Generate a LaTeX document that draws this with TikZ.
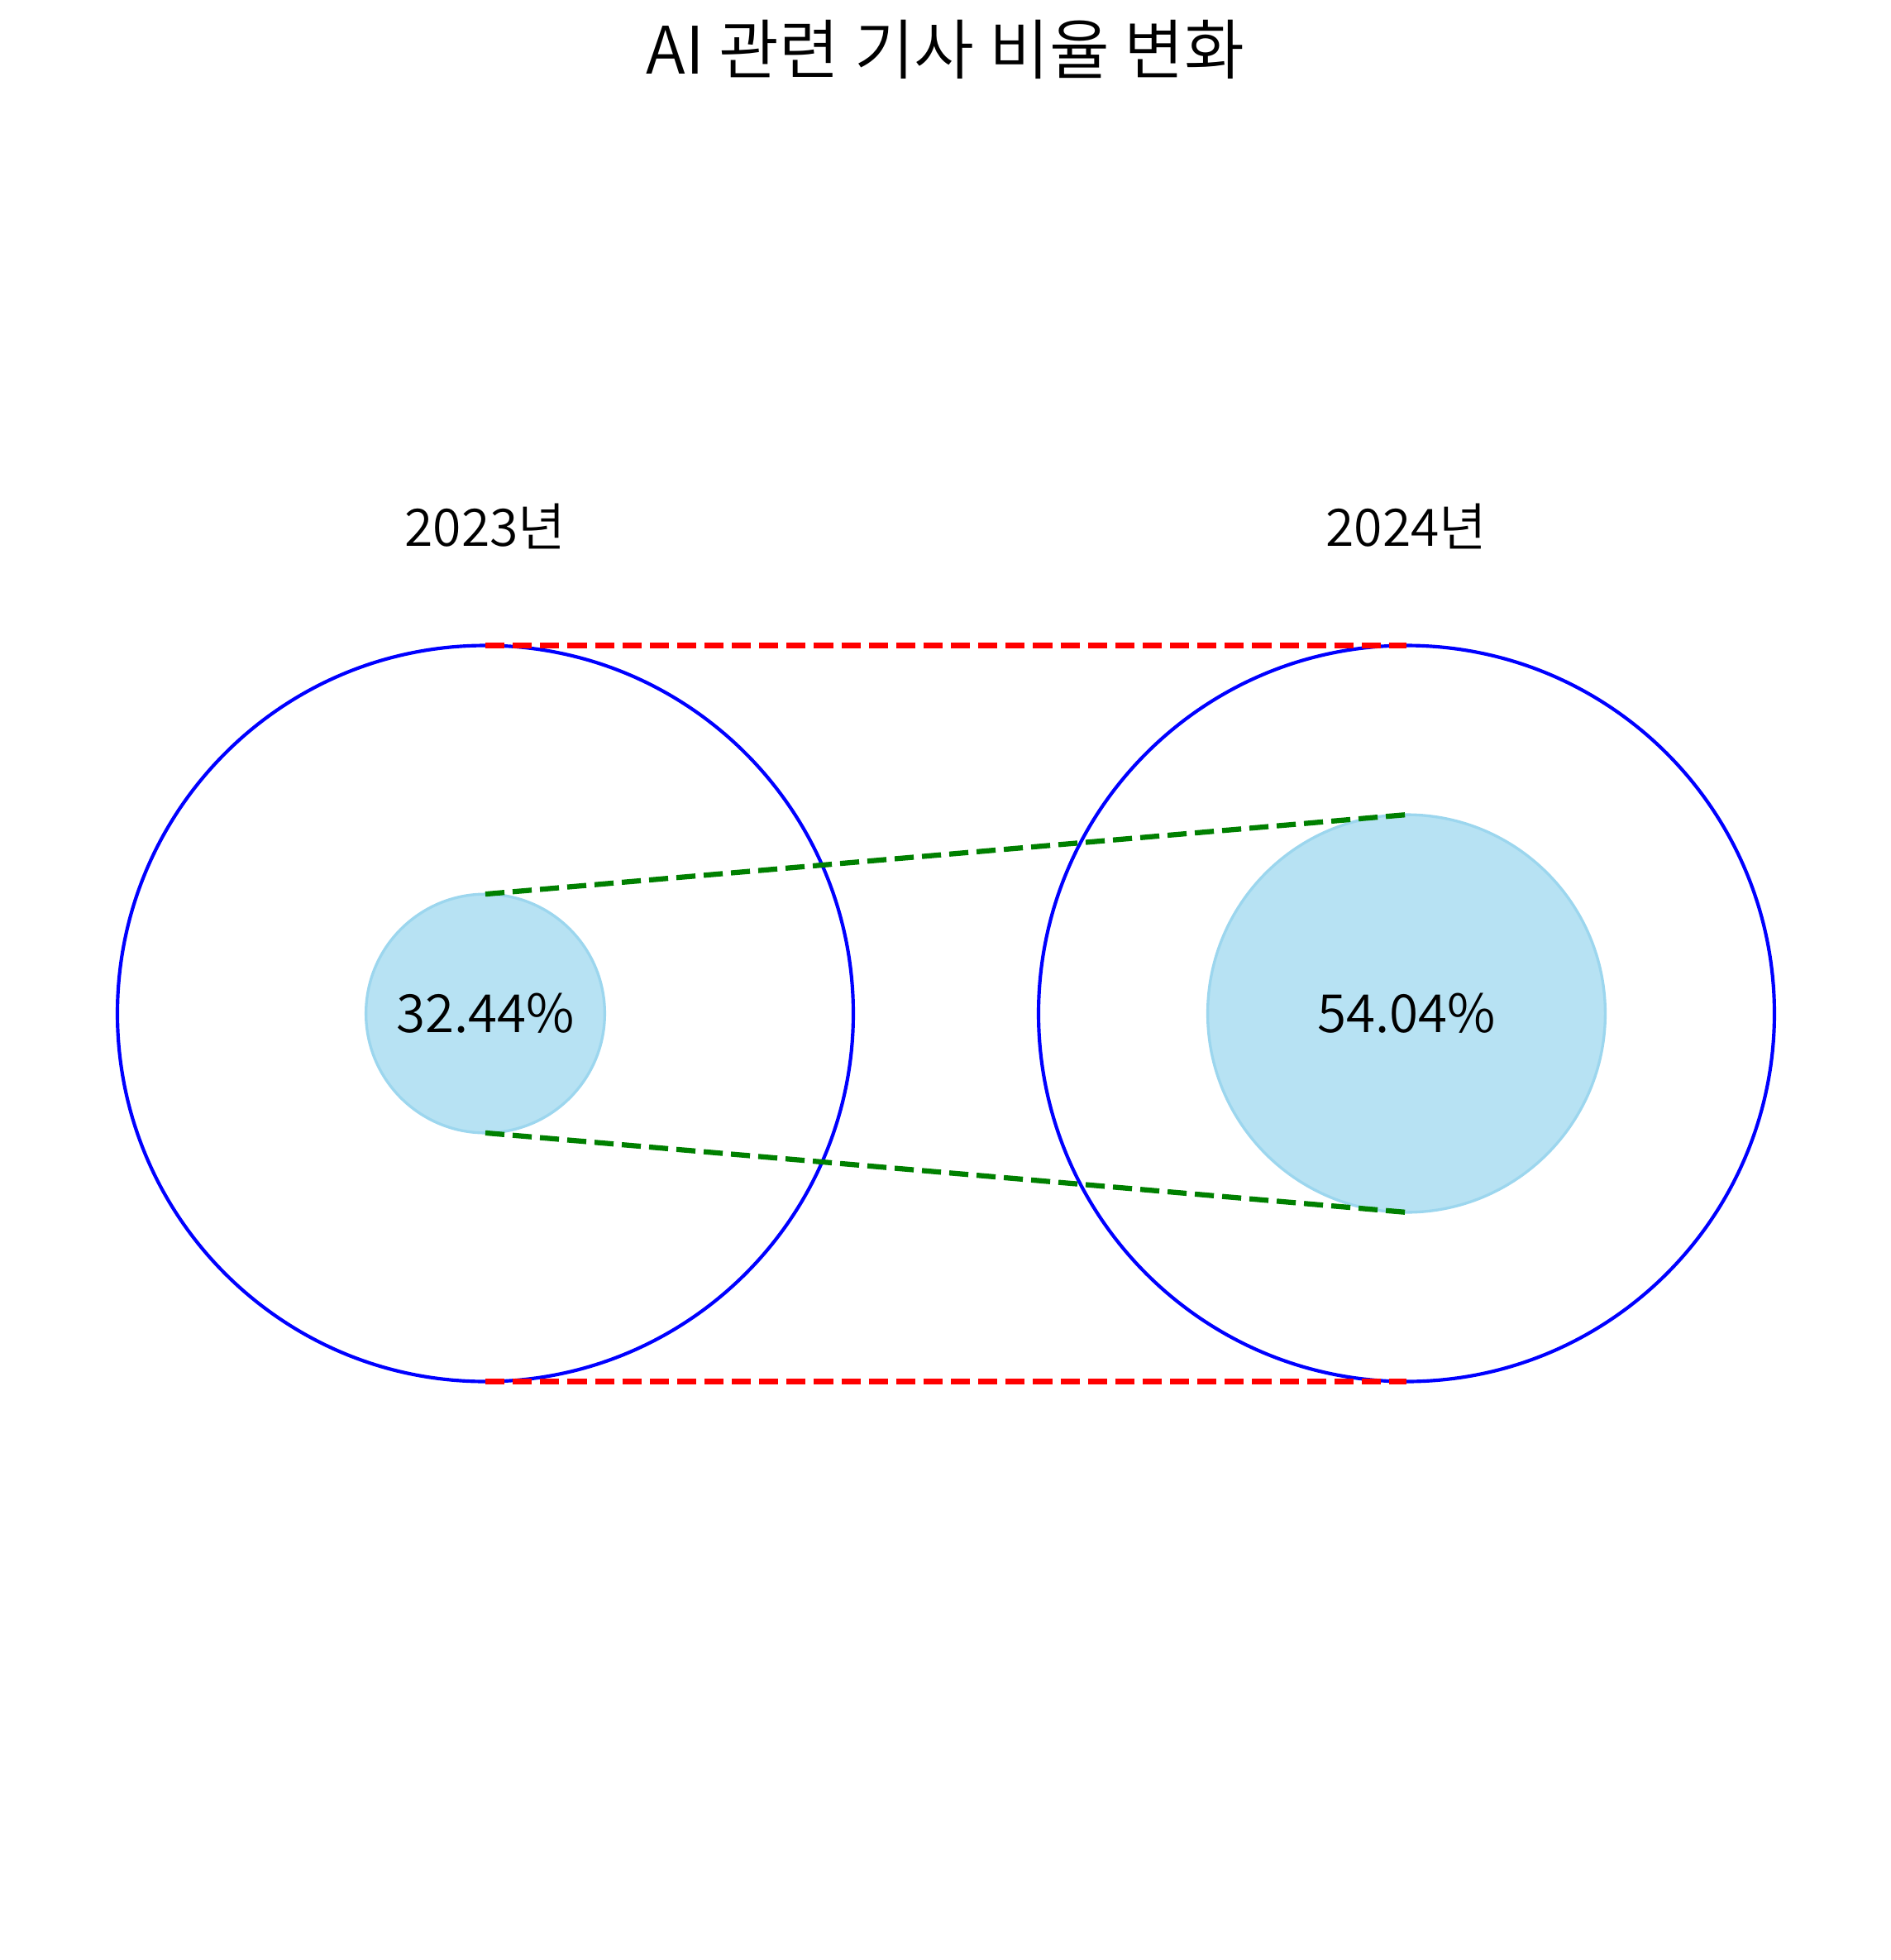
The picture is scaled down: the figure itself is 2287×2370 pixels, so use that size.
\documentclass[tikz,border=0pt]{standalone}
\usepackage{fontspec}
\setmainfont{Noto Sans CJK KR}[UprightFont=* DemiLight]
\usepackage{xcolor}
\definecolor{skyfill}{RGB}{183,226,243}
\definecolor{skyedge}{RGB}{156,214,238}
\definecolor{mplgreen}{RGB}{0,128,0}

\begin{document}
\begin{tikzpicture}[x=0.24pt,y=-0.24pt,
  ring/.style={circle,draw=blue,line width=1pt,inner sep=0pt,outer sep=0pt,minimum size=213.6pt},
  share/.style={circle,draw=skyedge,fill=skyfill,line width=0.8pt,inner sep=0pt,outer sep=0pt,
    font=\fontsize{15.3}{18}\selectfont},
  guide/.style={line width=1.5pt,dash pattern=on 5.55pt off 2.4pt},
  yearlabel/.style={anchor=base,inner sep=0pt,font=\fontsize{15}{18}\selectfont},
  heading/.style={anchor=base,inner sep=0pt,font=\fontsize{19}{23}\selectfont}]
\useasboundingbox (0,0) rectangle (2287,2370);
\coordinate (A) at (587,1225.5);
\coordinate (B) at (1701,1225.5);
\node[ring] (outerA) at (A) {};
\node[ring] (outerB) at (B) {};
\node[share,minimum size=69.3pt] (innerA) at (A) {32.44\%};
\node[share,minimum size=115.4pt] (innerB) at (B) {54.04\%};
% outer and inner guides
\draw[guide,red] (outerA.north) -- (outerB.north);
\draw[guide,red] (outerA.south) -- (outerB.south);
\draw[guide,mplgreen] (innerA.north) -- (innerB.north);
\draw[guide,mplgreen] (innerA.south) -- (innerB.south);
\node[yearlabel] (yearA) at (587,660) {2023년};
\node[yearlabel] (yearB) at (1701,660) {2024년};
\node[heading] (title) at (1143.5,89) {AI 관련 기사 비율 변화};
\end{tikzpicture}
\end{document}
